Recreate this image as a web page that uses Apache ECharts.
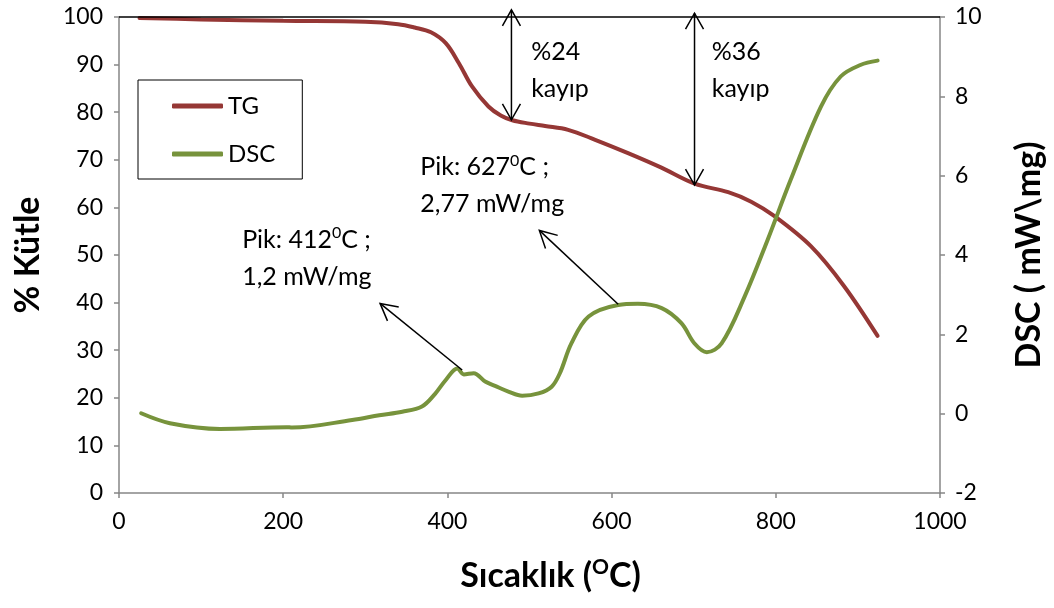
<!DOCTYPE html>
<html>
<head>
<meta charset="utf-8">
<script src="https://cdn.jsdelivr.net/npm/echarts@6/dist/echarts.min.js"></script>
<style>
html,body{margin:0;padding:0;background:#fff;}
#chart{width:1054px;height:608px;}
</style>
</head>
<body>
<div id="chart"></div>
<script>
// ---- data ----
const tgTemp = [25, 100, 200, 300, 340, 360, 380, 398, 414, 430, 450, 465, 479, 500, 519, 547, 580, 620, 660, 701, 742, 770, 798, 843, 883, 924];
const tgMass = [99.8, 99.5, 99.2, 99.0, 98.5, 97.8, 96.8, 94.5, 90.3, 85.4, 81.2, 79.3, 78.3, 77.6, 77.1, 76.3, 74.2, 71.4, 68.4, 65.0, 63.2, 61.2, 58.2, 51.8, 43.5, 33.0];

const dscTemp = [27, 62, 123, 204, 211, 284, 317, 345, 369, 385, 398, 412, 420, 432, 446, 458, 475, 491, 511, 527, 537, 551, 572, 608, 632, 661, 685, 701, 716, 734, 762, 790, 818, 855, 879, 903, 924];
const dscVal = [0.01, -0.24, -0.385, -0.34, -0.35, -0.16, -0.04, 0.05, 0.18, 0.5, 0.85, 1.14, 0.99, 1.02, 0.81, 0.70, 0.55, 0.45, 0.51, 0.68, 1.02, 1.77, 2.45, 2.74, 2.77, 2.66, 2.28, 1.77, 1.55, 1.77, 2.95, 4.38, 5.89, 7.74, 8.50, 8.79, 8.90];

const xTicks = [0, 200, 400, 600, 800, 1000];
const massTicks = [0, 10, 20, 30, 40, 50, 60, 70, 80, 90, 100];
const dscTicks = [-2, 0, 2, 4, 6, 8, 10];

// mass-loss double arrows: [temperature, top %, bottom %]
const lossArrows = [[478, 101.5, 78.4], [701, 100.8, 64.7]];
// peak pointer arrows on DSC axis: [tailT, tailDSC, headT, headDSC]
const peakArrows = [[418, 1.10, 318, 2.78], [608, 2.76, 512, 4.62]];
// annotation texts (anchored on the mass axis): [T, %, text]
const notes = [
  [502, 88.7, '%24\nkayıp'],
  [722, 88.7, '%36\nkayıp'],
  [367, 64.6, 'Pik: 627{s|0}C ;\n2,77 mW/mg'],
  [150, 49.3, 'Pik: 412{s|0}C ;\n1,2 mW/mg']
];

const FONT = 'Lato, "Open Sans", sans-serif';
const AXIS_GRAY = '#868686';

const chart = echarts.init(document.getElementById('chart'), null, {renderer: 'canvas'});

function doubleArrow(params, api) {
  const x = api.value(0), top = api.value(1), bot = api.value(2);
  const p1 = api.coord([x, top]), p2 = api.coord([x, bot]);
  const L = 16, W = 9;
  const st = {stroke: '#000', lineWidth: 1.5, fill: null};
  return {type: 'group', children: [
    {type: 'line', shape: {x1: p1[0], y1: p1[1], x2: p2[0], y2: p2[1]}, style: st},
    {type: 'polyline', shape: {points: [[p1[0] - W, p1[1] + L], [p1[0], p1[1]], [p1[0] + W, p1[1] + L]]}, style: st},
    {type: 'polyline', shape: {points: [[p2[0] - W, p2[1] - L], [p2[0], p2[1]], [p2[0] + W, p2[1] - L]]}, style: st}
  ]};
}

function pointerArrow(params, api) {
  const t = api.coord([api.value(0), api.value(1)]);
  const h = api.coord([api.value(2), api.value(3)]);
  const dx = h[0] - t[0], dy = h[1] - t[1];
  const len = Math.sqrt(dx * dx + dy * dy);
  const ux = dx / len, uy = dy / len;
  const L = 19, a = 28 * Math.PI / 180;
  const arm = (ang) => {
    const c = Math.cos(ang), s = Math.sin(ang);
    const rx = ux * c - uy * s, ry = ux * s + uy * c;
    return [h[0] - rx * L, h[1] - ry * L];
  };
  const st = {stroke: '#000', lineWidth: 1.5, fill: null};
  return {type: 'group', children: [
    {type: 'line', shape: {x1: t[0], y1: t[1], x2: h[0], y2: h[1]}, style: st},
    {type: 'polyline', shape: {points: [arm(a), h, arm(-a)]}, style: st}
  ]};
}

function noteText(params, api) {
  const p = api.coord([api.value(0), api.value(1)]);
  const txt = notes[params.dataIndex][2];
  return {
    type: 'text', x: p[0], y: p[1],
    style: {
      text: txt, fill: '#000', fontFamily: FONT, fontSize: 25, lineHeight: 37,
      align: 'left', verticalAlign: 'middle',
      rich: {s: {fontSize: 16, fontFamily: FONT, fill: '#000', padding: [0, 0, 13, 0]}}
    }
  };
}

const option = {
  backgroundColor: '#fff',
  animation: false,
  textStyle: {fontFamily: FONT},
  grid: {left: 119, right: 111, top: 17, bottom: 115, containLabel: false},
  legend: {
    orient: 'vertical', left: 138, top: 80,
    padding: [14, 27, 13, 34], itemGap: 24,
    itemWidth: 51, itemHeight: 5, icon: 'roundRect',
    borderColor: '#000', borderWidth: 1, borderRadius: 0, backgroundColor: '#fff',
    textStyle: {fontFamily: FONT, fontSize: 24, color: '#000'},
    data: ['TG', 'DSC']
  },
  xAxis: {
    type: 'value', min: xTicks[0], max: xTicks[xTicks.length - 1], interval: 200,
    name: 'Sıcaklık ({s|O}C)', nameLocation: 'middle', nameGap: 64,
    nameTextStyle: {fontFamily: FONT, fontSize: 34, fontWeight: 'bold', color: '#000',
      padding: [0, 0, 0, 42],
      rich: {s: {fontFamily: FONT, fontSize: 21, fontWeight: 'bold', color: '#000', padding: [0, 0, 17, 0]}}},
    axisLine: {show: true, lineStyle: {color: AXIS_GRAY, width: 1.5}},
    axisTick: {show: true, length: 5, lineStyle: {color: AXIS_GRAY, width: 1.5}},
    axisLabel: {fontFamily: FONT, fontSize: 23, color: '#000', margin: 17, formatter: (v) => String(v)},
    splitLine: {show: false}
  },
  yAxis: [
    {
      type: 'value', min: massTicks[0], max: massTicks[massTicks.length - 1], interval: 10,
      name: '% Kütle', nameLocation: 'middle', nameGap: 74, nameRotate: 90,
      nameTextStyle: {fontFamily: FONT, fontSize: 34, fontWeight: 'bold', color: '#000'},
      axisLine: {show: true, lineStyle: {color: AXIS_GRAY, width: 1.5}},
      axisTick: {show: true, length: 5, lineStyle: {color: AXIS_GRAY, width: 1.5}},
      axisLabel: {fontFamily: FONT, fontSize: 23, color: '#000', margin: 16},
      splitLine: {show: false}
    },
    {
      type: 'value', position: 'right', min: dscTicks[0], max: dscTicks[dscTicks.length - 1], interval: 2,
      name: 'DSC ( mW\\mg)', nameLocation: 'middle', nameGap: 72, nameRotate: 90,
      nameTextStyle: {fontFamily: FONT, fontSize: 34, fontWeight: 'bold', color: '#000'},
      axisLine: {show: true, lineStyle: {color: AXIS_GRAY, width: 1.5}},
      axisTick: {show: true, length: 5, lineStyle: {color: AXIS_GRAY, width: 1.5}},
      axisLabel: {fontFamily: FONT, fontSize: 23, color: '#000', margin: 15},
      splitLine: {show: false}
    }
  ],
  series: [
    {
      name: 'TG', type: 'line', yAxisIndex: 0, smooth: 0.35, showSymbol: false,
      data: tgTemp.map((t, i) => [t, tgMass[i]]),
      lineStyle: {color: '#953735', width: 4, cap: 'round'},
      itemStyle: {color: '#953735'},
      markLine: {
        silent: true, symbol: ['none', 'none'], label: {show: false},
        lineStyle: {color: '#000', width: 1.5, type: 'solid'},
        data: [{yAxis: 100}]
      },
      z: 3
    },
    {
      name: 'DSC', type: 'line', yAxisIndex: 1, smooth: 0.35, showSymbol: false,
      data: dscTemp.map((t, i) => [t, dscVal[i]]),
      lineStyle: {color: '#77933C', width: 4, cap: 'round'},
      itemStyle: {color: '#77933C'},
      z: 3
    },
    {
      type: 'custom', yAxisIndex: 0, clip: false, silent: true, z: 5,
      renderItem: doubleArrow, data: lossArrows
    },
    {
      type: 'custom', yAxisIndex: 1, clip: false, silent: true, z: 5,
      renderItem: pointerArrow, data: peakArrows
    },
    {
      type: 'custom', yAxisIndex: 0, clip: false, silent: true, z: 6,
      renderItem: noteText, data: notes.map(n => [n[0], n[1]])
    }
  ]
};
chart.setOption(option);
</script>
</body>
</html>
